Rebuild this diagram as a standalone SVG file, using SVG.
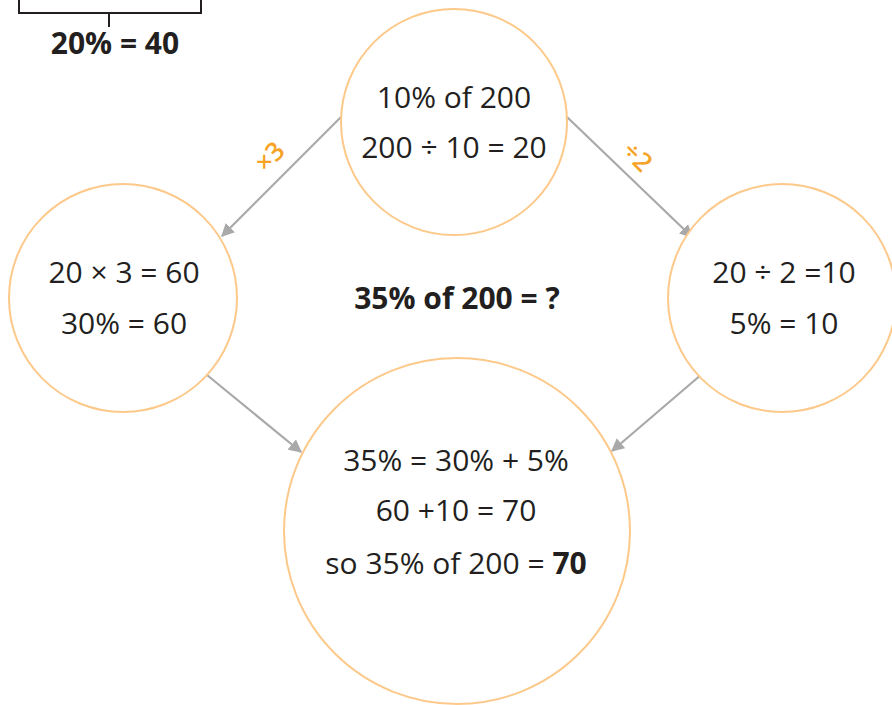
<svg xmlns="http://www.w3.org/2000/svg" width="892" height="705" viewBox="0 0 892 705">
<defs>
<marker id="ah" viewBox="0 0 10 10" refX="9" refY="5" markerWidth="6" markerHeight="6" orient="auto" markerUnits="strokeWidth">
<path d="M0,0 L10,5 L0,10 z" fill="#a9a9a9"/>
</marker>
<style>
.c{fill:#fff;stroke:#fdc98a;stroke-width:2}
.t{font-family:"Open Sans","Noto Sans",sans-serif;font-size:30px;fill:#231f20;text-anchor:middle}
.b{font-weight:bold}
.a{stroke:#a9a9a9;stroke-width:2.2;fill:none;marker-end:url(#ah)}
.l{font-family:"Open Sans","Noto Sans",sans-serif;font-size:26px;font-weight:600;fill:#f7a325;text-anchor:middle}
</style>
</defs>
<rect width="892" height="705" fill="#fff"/>
<g id="bracket">
<path d="M19,0 V13 H201 V0 M109,13 V27" stroke="#231f20" stroke-width="2" fill="none"/>
<text class="t b" x="115" y="54" font-size="25">20% = 40</text>
</g>
<g id="connectors">
<line class="a" x1="341" y1="117" x2="222" y2="236"/>
<line class="a" x1="567" y1="117" x2="692" y2="237"/>
<line class="a" x1="207" y1="375" x2="301" y2="452"/>
<line class="a" x1="702" y1="374" x2="612" y2="451"/>
<text class="l" transform="translate(276,163) rotate(-45)">×3</text>
<text class="l" transform="translate(631,163) rotate(45)">÷2</text>
</g>
<g id="n-top">
<circle class="c" cx="454" cy="122" r="113"/>
<text class="t" x="454" y="108">10% of 200</text>
<text class="t" x="454" y="158">200 ÷ 10 = 20</text>
</g>
<g id="n-left">
<circle class="c" cx="123" cy="298" r="114"/>
<text class="t" x="124" y="283">20 × 3 = 60</text>
<text class="t" x="124" y="334">30% = 60</text>
</g>
<g id="n-right">
<circle class="c" cx="782" cy="298" r="114"/>
<text class="t" x="784" y="283">20 ÷ 2 =10</text>
<text class="t" x="784" y="334">5% = 10</text>
</g>
<g id="question">
<text class="t b" x="457" y="309" font-size="28">35% of 200 = ?</text>
</g>
<g id="n-bottom">
<circle class="c" cx="457" cy="531" r="173"/>
<text class="t" x="456" y="471">35% = 30% + 5%</text>
<text class="t" x="456" y="521">60 +10 = 70</text>
<text class="t" x="456" y="574">so 35% of 200 = <tspan class="b">70</tspan></text>
</g>
</svg>
